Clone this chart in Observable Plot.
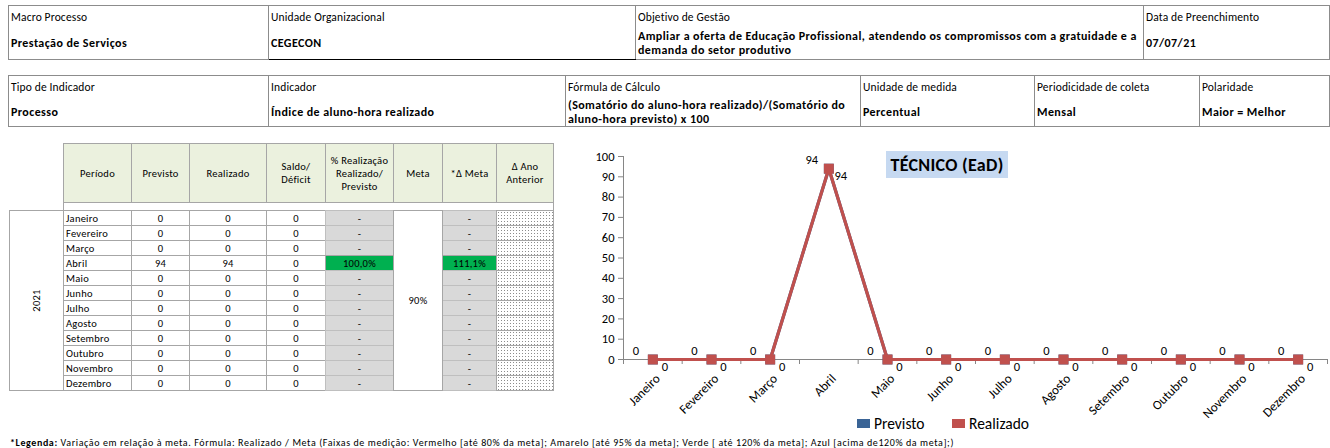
<!DOCTYPE html>
<html>
<head>
<meta charset="utf-8">
<script src="https://cdn.jsdelivr.net/npm/d3@7"></script>
<script src="https://cdn.jsdelivr.net/npm/@observablehq/plot@0.6"></script>
<style>
  html, body { margin: 0; padding: 0; background: #fff; }
  body { width: 1330px; height: 448px; position: relative; overflow: hidden; font-family: Carlito, Calibri, Lato, sans-serif; color: #000; }
  .abs { position: absolute; box-sizing: border-box; }
  table.info { position: absolute; border-collapse: collapse; table-layout: fixed; }
  table.info td { border-left: 1px solid #8c8c8c; border-right: 1px solid #8c8c8c; padding: 0 2px; vertical-align: middle; overflow: hidden; }
  table.info { border: 1px solid #8c8c8c; }
  table.info td.lab { font-size: 11.5px; height: 21px; letter-spacing: 0.15px; }
  table.info td.val { font-size: 12px; font-weight: bold; line-height: 14px; letter-spacing: 0.42px; }
  .cell { position: absolute; box-sizing: border-box; border: 1px solid #a6a6a6; font-size: 10.5px; letter-spacing: 0.25px; display: flex; align-items: center; justify-content: center; text-align: center; white-space: pre-line; line-height: 13px; }
  .hdr { background: #ebf1de; }
  .grey { background: #d9d9d9; border-color: #bfbfbf; }
  .green { background: #00b050; }
  .dots { background-color: #fff; background-image: radial-gradient(#8c8c8c 0.5px, transparent 0.7px); background-size: 3px 3px; }
  .left { justify-content: flex-start; padding-left: 2px; }
</style>
</head>
<body>
<div id="root"></div>
<script>
// ---------- data ----------
const infoLabels1 = ["Macro Processo", "Unidade Organizacional", "Objetivo de Gestão", "Data de Preenchimento"];
const infoValues1 = ["Prestação de Serviços", "CEGECON", "Ampliar a oferta de Educação Profissional, atendendo os compromissos com a gratuidade e a demanda do setor produtivo", "07/07/21"];
const infoLabels2 = ["Tipo de Indicador", "Indicador", "Fórmula  de Cálculo", "Unidade de medida", "Periodicidade de coleta", "Polaridade"];
const infoValues2 = ["Processo", "Índice de aluno-hora realizado", "(Somatório do aluno-hora realizado)/(Somatório do aluno-hora previsto) x 100", "Percentual", "Mensal", "Maior = Melhor"];

const headers = ["Período", "Previsto", "Realizado", "Saldo/\nDéficit", "% Realização\nRealizado/\nPrevisto", "Meta", "*Δ Meta", "Δ Ano\nAnterior"];
const year = "2021";
const months = ["Janeiro", "Fevereiro", "Março", "Abril", "Maio", "Junho", "Julho", "Agosto", "Setembro", "Outubro", "Novembro", "Dezembro"];
const previsto  = [0, 0, 0, 94, 0, 0, 0, 0, 0, 0, 0, 0];
const realizado = [0, 0, 0, 94, 0, 0, 0, 0, 0, 0, 0, 0];
const saldo     = [0, 0, 0, 0, 0, 0, 0, 0, 0, 0, 0, 0];
const pctRealizacao = ["-", "-", "-", "100,0%", "-", "-", "-", "-", "-", "-", "-", "-"];
const meta = "90%";
const deltaMeta = ["-", "-", "-", "111,1%", "-", "-", "-", "-", "-", "-", "-", "-"];
const chartTitle = "TÉCNICO (EaD)";
const seriesNames = ["Previsto", "Realizado"];
const seriesColors = ["#3a6496", "#c0504d"];
const yTicks = [0, 10, 20, 30, 40, 50, 60, 70, 80, 90, 100];
const footnoteBold = "*Legenda:";
const footnoteText = " Variação em relação à meta. Fórmula: Realizado / Meta (Faixas de medição: Vermelho [até 80% da meta]; Amarelo [até 95% da meta]; Verde [ até 120% da meta]; Azul [acima de120% da meta];)";

// ---------- layout ----------
const root = document.getElementById("root");

function infoTable(labels, values, left, top, widths, valHeight, darkBottom) {
  const t = document.createElement("table");
  t.className = "info";
  t.style.left = left + "px"; t.style.top = top + "px";
  t.style.width = d3.sum(widths) + "px";
  const cg = document.createElement("colgroup");
  widths.forEach(w => { const c = document.createElement("col"); c.style.width = w + "px"; cg.appendChild(c); });
  t.appendChild(cg);
  const r1 = t.insertRow(), r2 = t.insertRow();
  labels.forEach((l, i) => {
    const c = r1.insertCell(); c.className = "lab"; c.textContent = l;
    const v = r2.insertCell(); v.className = "val"; v.textContent = values[i]; v.style.height = valHeight + "px";
    if (darkBottom && darkBottom.includes(i)) v.style.borderBottom = "1px solid #000";
  });
  root.appendChild(t);
}
infoTable(infoLabels1, infoValues1, 8, 5, [260, 367, 508, 186], 32, [1]);
infoTable(infoLabels2, infoValues2, 8, 75, [260, 297, 295, 174, 165, 130], 29, []);

// data table
const colX = [63, 131, 189, 266, 325, 393, 442, 496, 553];
const hdrTop = 143, hdrBot = 202, gapBot = 210, rowH = 15;
function cell(x0, y0, x1, y1, text, cls) {
  const d = document.createElement("div");
  d.className = "cell " + (cls || "");
  d.style.left = x0 + "px"; d.style.top = y0 + "px";
  d.style.width = (x1 - x0 + 1) + "px"; d.style.height = (y1 - y0 + 1) + "px";
  d.textContent = text;
  root.appendChild(d);
  return d;
}
headers.forEach((h, i) => cell(colX[i], hdrTop, colX[i + 1], hdrBot, h, "hdr"));
cell(colX[0], hdrBot, colX[8], gapBot, "", "");
const yc = cell(9, gapBot, colX[0], gapBot + 12 * rowH, "", "");
const ys = document.createElement("span");
ys.textContent = year; ys.style.transform = "rotate(-90deg)"; ys.style.display = "inline-block";
yc.appendChild(ys);
months.forEach((m, r) => {
  const y0 = gapBot + r * rowH, y1 = y0 + rowH;
  cell(colX[0], y0, colX[1], y1, m, "left");
  cell(colX[1], y0, colX[2], y1, String(previsto[r]));
  cell(colX[2], y0, colX[3], y1, String(realizado[r]));
  cell(colX[3], y0, colX[4], y1, String(saldo[r]));
  cell(colX[4], y0, colX[5], y1, pctRealizacao[r], pctRealizacao[r] === "-" ? "grey" : "green");
  cell(colX[6], y0, colX[7], y1, deltaMeta[r], deltaMeta[r] === "-" ? "grey" : "green");
  cell(colX[7], y0, colX[8], y1, "", "dots");
});
cell(colX[5], gapBot, colX[6], gapBot + 12 * rowH, meta, "");

// ---------- chart ----------
const data = months.map((m, i) => ({i, m, previsto: previsto[i], realizado: realizado[i]}));
const axisCol = "#868686";
const chart = Plot.plot({
  width: 770, height: 270,
  marginLeft: 63, marginRight: 3, marginTop: 11, marginBottom: 56,
  x: {type: "linear", domain: [-0.5, 11.5]},
  y: {domain: [0, 100]},
  style: {fontFamily: "Carlito, Calibri, Lato, sans-serif", background: "transparent", color: "#000", overflow: "visible"},
  marks: [
    Plot.ruleX([-0.5], {stroke: axisCol}),
    Plot.ruleY([0], {stroke: axisCol}),
    Plot.axisY({ticks: yTicks, tickSize: 5, tickPadding: 4, label: null, stroke: axisCol, fill: "#000", fontSize: 12.5}),
    Plot.axisX({ticks: d3.range(13).map(k => k - 0.5), tickSize: 5, tickFormat: () => "", label: null, stroke: axisCol}),
    Plot.axisX({ticks: d3.range(12), tickFormat: k => months[k], tickSize: 0, tickPadding: 17, tickRotate: -45, dx: 5, label: null, fill: "#000", fontSize: 13}),
    Plot.line(data, {x: "i", y: "previsto", stroke: seriesColors[0], strokeWidth: 3.2}),
    Plot.dot(data, {x: "i", y: "previsto", symbol: "square", r: 5.6, fill: seriesColors[0]}),
    Plot.line(data, {x: "i", y: "realizado", stroke: seriesColors[1], strokeWidth: 3.2}),
    Plot.dot(data, {x: "i", y: "realizado", symbol: "square", r: 5.6, fill: seriesColors[1]}),
    Plot.text(data, {x: "i", y: "previsto", text: d => String(d.previsto), dx: -17, dy: -9, fontSize: 12.5, fill: "#000"}),
    Plot.text(data, {x: "i", y: "realizado", text: d => String(d.realizado), dx: 12, dy: 7, fontSize: 12.5, fill: "#000"})
  ]
});
const holder = document.createElement("div");
holder.className = "abs";
holder.style.left = "560px"; holder.style.top = "145px";
holder.appendChild(chart);
root.appendChild(holder);

// chart title box
const tb = document.createElement("div");
tb.className = "abs";
Object.assign(tb.style, {left: "886px", top: "151px", width: "122px", height: "27px", background: "#c6d9f1",
  fontWeight: "bold", fontSize: "18px", letterSpacing: "0.3px", display: "flex", alignItems: "center", justifyContent: "center", zIndex: 2});
tb.textContent = chartTitle;
root.appendChild(tb);

// legend
const legendX = [857, 952];
seriesNames.forEach((n, k) => {
  const sq = document.createElement("div");
  sq.className = "abs";
  Object.assign(sq.style, {left: legendX[k] + "px", top: "419px", width: "13px", height: "9px", background: seriesColors[k]});
  root.appendChild(sq);
  const tx = document.createElement("div");
  tx.className = "abs";
  Object.assign(tx.style, {left: (legendX[k] + 17) + "px", top: "414px", fontSize: "15.5px", lineHeight: "20px"});
  tx.textContent = n;
  root.appendChild(tx);
});

// footnote
const fn = document.createElement("div");
fn.className = "abs";
Object.assign(fn.style, {left: "10px", top: "437px", fontSize: "10px", letterSpacing: "0.6px", lineHeight: "12px", whiteSpace: "nowrap"});
const fb = document.createElement("b"); fb.textContent = footnoteBold;
fn.appendChild(fb);
fn.appendChild(document.createTextNode(footnoteText));
root.appendChild(fn);
</script>
</body>
</html>
